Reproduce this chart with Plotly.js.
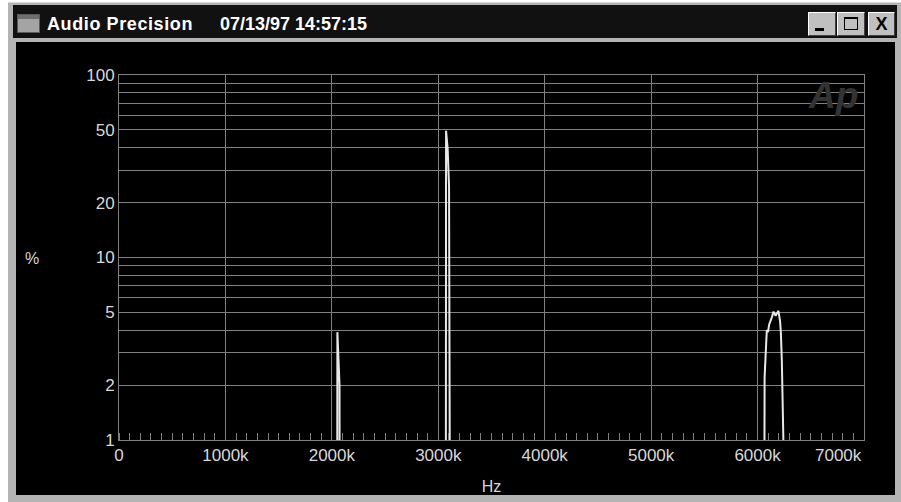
<!DOCTYPE html>
<html>
<head>
<meta charset="utf-8">
<script src="https://cdn.plot.ly/plotly-3.0.1.min.js"></script>
<style>
html,body{margin:0;padding:0;background:#fff;width:901px;height:502px;overflow:hidden;font-family:"Liberation Sans",Arial,sans-serif;}
.abs{position:absolute;}
#frame{left:8px;top:2px;width:893px;height:500px;background:#b4b4b4;border-top:1px solid #d8d8d8;box-sizing:border-box;}
#titlebar{left:13px;top:5px;width:884px;height:33px;background:#111;}
#icon{left:17px;top:14px;width:23px;height:19px;background:#a4a4a4;border:1px solid #5a5a5a;box-sizing:border-box;}
#iconband{left:18px;top:15px;width:21px;height:4px;background:#6e6e6e;}
.ttl{top:13px;color:#fff;font-weight:bold;font-size:18px;line-height:22px;white-space:nowrap;}
.btn{top:12px;height:24px;background:#c0c0c0;border-top:1px solid #fff;border-left:1px solid #fff;border-right:1px solid #404040;border-bottom:1px solid #404040;box-sizing:border-box;}
#plot{left:16px;top:42px;width:879px;height:453px;background:#000;}
</style>
</head>
<body>
<div id="frame" class="abs"></div>
<div id="titlebar" class="abs"></div>
<div id="icon" class="abs"></div>
<div id="iconband" class="abs"></div>
<div class="abs ttl" style="left:47px;letter-spacing:0.6px;">Audio Precision</div>
<div class="abs ttl" style="left:220px;">07/13/97 14:57:15</div>
<div class="abs btn" style="left:808px;width:28px;"><div class="abs" style="left:6px;top:15px;width:9px;height:3px;background:#000;"></div></div>
<div class="abs btn" style="left:837px;width:28px;"><div class="abs" style="left:6px;top:4px;width:14px;height:13px;border:1px solid #000;border-top:2px solid #000;box-sizing:border-box;"></div></div>
<div class="abs btn" style="left:868px;width:27px;"><div class="abs" style="left:0;top:0;width:25px;height:22px;line-height:22px;text-align:center;font-weight:bold;font-size:18px;color:#000;">X</div></div>
<div id="plot" class="abs"></div>
<script>
// Frequency (Hz) and level (%) read from the analyzer display; 0.3 = below the 1% floor
const freqHz = [0, 2050000, 2052000, 2072000, 2074000,
  3071000, 3073000, 3088000, 3101000, 3110000,
  6063000, 6066000, 6081000, 6087000, 6098000, 6109000, 6134000, 6150000, 6170000,
  6196000, 6212000, 6219000, 6228000, 6243000, 6253000, 6260000, 7000000];
const levelPct = [0.3, 0.3, 3.9, 2.0, 0.3,
  0.3, 49.5, 39.5, 24.5, 0.3,
  0.3, 2.2, 3.4, 4.0, 3.9, 4.3, 4.7, 5.05, 4.8,
  5.1, 4.45, 3.85, 2.7, 1.5, 1.04, 0.3, 0.3];

const xTickVals = [0, 1000000, 2000000, 3000000, 4000000, 5000000, 6000000, 7000000];
const xTickText = ["0", "1000k", "2000k", "3000k", "4000k", "5000k", "6000k", ""];
const xLastLabel = "7000k";
const yTickVals = [1,2,3,4,5,6,7,8,9,10,20,30,40,50,60,70,80,90,100];
const yTickText = ["1","2","","","5","","","","","10","20","","","50","","","","","100"];

const grid = '#808080';
const txt = '#d8d8d8';

const data = [{
  type: 'scatter', mode: 'lines',
  x: freqHz, y: levelPct,
  line: {color: '#e8e8e8', width: 2},
  hoverinfo: 'skip'
}];

const layout = {
  width: 879, height: 453,
  paper_bgcolor: '#000', plot_bgcolor: '#000',
  margin: {l: 103, r: 31, t: 33, b: 55, pad: 0},
  font: {family: 'Liberation Sans, Arial, sans-serif', size: 17, color: txt},
  showlegend: false,
  xaxis: {
    range: [0, 7000000], tickmode: 'array', tickvals: xTickVals, ticktext: xTickText,
    showgrid: true, gridcolor: grid, gridwidth: 1, showline: true, linecolor: grid, linewidth: 1,
    mirror: true, ticks: '', zeroline: false, automargin: false,
    minor: {tickmode: 'linear', tick0: 0, dtick: 100000, ticks: 'inside', ticklen: 7, tickcolor: grid, tickwidth: 1, showgrid: false},
    title: {text: 'Hz', standoff: 20, font: {size: 16, color: txt}}
  },
  yaxis: {
    type: 'log', range: [0, 2], tickmode: 'array', tickvals: yTickVals, ticktext: yTickText,
    showgrid: true, gridcolor: grid, gridwidth: 1, showline: true, linecolor: grid, linewidth: 1,
    mirror: true, ticks: '', zeroline: false, automargin: false
  },
  annotations: [
    {text: '%', xref: 'paper', yref: 'paper', x: 0, y: 0.496, xanchor: 'center', yanchor: 'middle',
     xshift: -87, showarrow: false, font: {size: 16, color: txt}},
    {text: xLastLabel, xref: 'x', yref: 'paper', x: 7000000, y: 0, xanchor: 'right', yanchor: 'top',
     yshift: -4, showarrow: false, font: {size: 17, color: txt}},
    {text: 'Ap', xref: 'paper', yref: 'paper', x: 1, y: 1, xanchor: 'right', yanchor: 'top',
     xshift: -4, yshift: 2, showarrow: false,
     font: {size: 37, color: '#333333', weight: 'bold', style: 'italic', family: 'Liberation Sans, Arial, sans-serif'}}
  ]
};

Plotly.newPlot('plot', data, layout, {displayModeBar: false, staticPlot: true});
</script>
</body>
</html>
